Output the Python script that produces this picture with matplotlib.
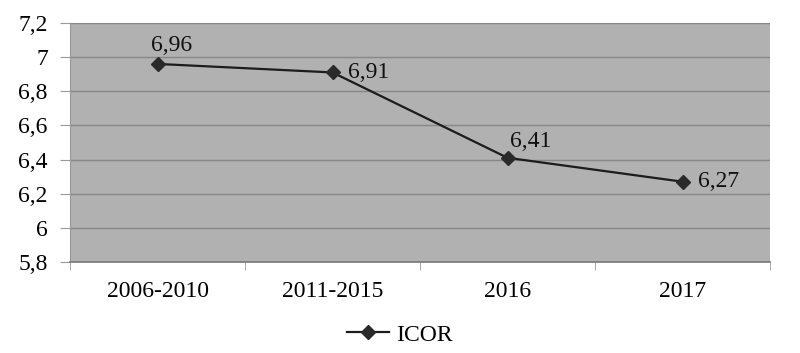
import matplotlib.pyplot as plt
from matplotlib.ticker import FixedLocator

periods = ["2006-2010", "2011-2015", "2016", "2017"]
icor = [6.96, 6.91, 6.41, 6.27]
yticks = [5.8, 6.0, 6.2, 6.4, 6.6, 6.8, 7.0, 7.2]

plt.rcParams['font.family'] = ['Liberation Serif', 'DejaVu Serif']
fs = 17

fig = plt.figure(figsize=(8, 3.53), dpi=100)
ax = fig.add_axes([0.0875, 0.258, 0.875, 0.677])
ax.set_facecolor('#b1b1b1')

x = list(range(len(periods)))
ax.plot(x, icor, color='#1c1c1c', lw=1.6, marker='D', ms=7.5,
        mfc='#2a2a2a', mec='#2a2a2a', label='ICOR', zorder=3)

# data labels, placed like the original
offsets = [(10, 6, 'center', 'bottom'), (11, 0, 'left', 'center'),
           (17, 4, 'center', 'bottom'), (11, 0, 'left', 'center')]
for xi, v, (dx, dy, ha, va) in zip(x, icor, offsets):
    ax.annotate(f"{v:.2f}".replace('.', ','), (xi, v), xytext=(dx, dy),
                textcoords='offset points', ha=ha, va=va, fontsize=fs,
                color='#111111')

ax.set_xlim(-0.5, len(periods) - 0.5)
ax.set_ylim(5.8, 7.2)
ax.set_yticks(yticks)
ax.set_yticklabels([f"{t:g}".replace('.', ',') for t in yticks])
ax.set_xticks(x)
ax.set_xticklabels(periods)
ax.xaxis.set_minor_locator(FixedLocator([-0.5, 0.5, 1.5, 2.5, 3.5]))
ax.tick_params(axis='x', which='major', length=0, pad=14, labelsize=fs)
ax.tick_params(axis='x', which='minor', length=6, color='#999999')
ax.tick_params(axis='y', length=7, color='#999999', pad=9, labelsize=fs)
ax.grid(axis='y', color='#888888', lw=1)
ax.set_axisbelow(True)
for s in ['top', 'right']:
    ax.spines[s].set_visible(False)
ax.spines['left'].set_color('#999999')
ax.spines['bottom'].set_color('#777777')
ax.spines['bottom'].set_linewidth(1.2)

fig.legend(loc='center', bbox_to_anchor=(0.5, 0.051), frameon=False,
           fontsize=fs, handlelength=1.8, handletextpad=0.3)

fig.savefig('out.png', dpi=100)
